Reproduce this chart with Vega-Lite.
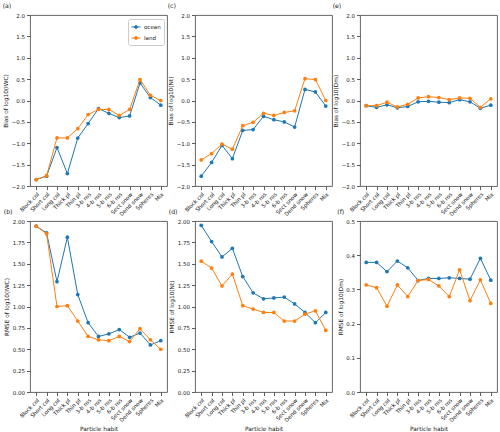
{
  "$schema": "https://vega.github.io/schema/vega-lite/v6.json",
  "padding": {"left": 2, "top": 2, "right": 2, "bottom": 2},
  "background": "white",
  "config": {
    "font": "DejaVu Sans",
    "view": {"stroke": "#555", "strokeWidth": 0.9},
    "axis": {"domain": false, "grid": false, "tickColor": "#333", "tickSize": 3.5, "tickWidth": 0.8, "labelFont": "DejaVu Sans", "labelFontSize": 5.5, "labelColor": "#222", "titleFont": "DejaVu Sans", "titleFontSize": 5.8, "titleFontWeight": "normal", "titleColor": "#222", "labelPadding": 2, "titlePadding": 2.5},
    "title": {"font": "DejaVu Sans", "fontSize": 6.2, "fontWeight": "normal", "anchor": "start", "offset": 4, "color": "#222"}
  },
  "datasets": {
    "d": [
      {"panel":"a","surface":"ocean","habit":"Block col","value":-1.85},
      {"panel":"a","surface":"ocean","habit":"Short col","value":-1.77},
      {"panel":"a","surface":"ocean","habit":"Long col","value":-1.10},
      {"panel":"a","surface":"ocean","habit":"Thick pl","value":-1.71},
      {"panel":"a","surface":"ocean","habit":"Thin pl","value":-0.88},
      {"panel":"a","surface":"ocean","habit":"3-b ros","value":-0.54},
      {"panel":"a","surface":"ocean","habit":"4-b ros","value":-0.19},
      {"panel":"a","surface":"ocean","habit":"5-b ros","value":-0.30},
      {"panel":"a","surface":"ocean","habit":"6-b ros","value":-0.40},
      {"panel":"a","surface":"ocean","habit":"Sect snow","value":-0.36},
      {"panel":"a","surface":"ocean","habit":"Dend snow","value":0.41},
      {"panel":"a","surface":"ocean","habit":"Spheres","value":0.07},
      {"panel":"a","surface":"ocean","habit":"Mix","value":-0.11},
      {"panel":"a","surface":"land","habit":"Block col","value":-1.85},
      {"panel":"a","surface":"land","habit":"Short col","value":-1.76},
      {"panel":"a","surface":"land","habit":"Long col","value":-0.875},
      {"panel":"a","surface":"land","habit":"Thick pl","value":-0.875},
      {"panel":"a","surface":"land","habit":"Thin pl","value":-0.66},
      {"panel":"a","surface":"land","habit":"3-b ros","value":-0.33},
      {"panel":"a","surface":"land","habit":"4-b ros","value":-0.21},
      {"panel":"a","surface":"land","habit":"5-b ros","value":-0.21},
      {"panel":"a","surface":"land","habit":"6-b ros","value":-0.35},
      {"panel":"a","surface":"land","habit":"Sect snow","value":-0.21},
      {"panel":"a","surface":"land","habit":"Dend snow","value":0.49},
      {"panel":"a","surface":"land","habit":"Spheres","value":0.12},
      {"panel":"a","surface":"land","habit":"Mix","value":0.0},
      {"panel":"c","surface":"ocean","habit":"Block col","value":-1.77},
      {"panel":"c","surface":"ocean","habit":"Short col","value":-1.45},
      {"panel":"c","surface":"ocean","habit":"Long col","value":-1.05},
      {"panel":"c","surface":"ocean","habit":"Thick pl","value":-1.36},
      {"panel":"c","surface":"ocean","habit":"Thin pl","value":-0.70},
      {"panel":"c","surface":"ocean","habit":"3-b ros","value":-0.68},
      {"panel":"c","surface":"ocean","habit":"4-b ros","value":-0.37},
      {"panel":"c","surface":"ocean","habit":"5-b ros","value":-0.45},
      {"panel":"c","surface":"ocean","habit":"6-b ros","value":-0.50},
      {"panel":"c","surface":"ocean","habit":"Sect snow","value":-0.62},
      {"panel":"c","surface":"ocean","habit":"Dend snow","value":0.26},
      {"panel":"c","surface":"ocean","habit":"Spheres","value":0.20},
      {"panel":"c","surface":"ocean","habit":"Mix","value":-0.13},
      {"panel":"c","surface":"land","habit":"Block col","value":-1.39},
      {"panel":"c","surface":"land","habit":"Short col","value":-1.24},
      {"panel":"c","surface":"land","habit":"Long col","value":-1.02},
      {"panel":"c","surface":"land","habit":"Thick pl","value":-1.14},
      {"panel":"c","surface":"land","habit":"Thin pl","value":-0.59},
      {"panel":"c","surface":"land","habit":"3-b ros","value":-0.51},
      {"panel":"c","surface":"land","habit":"4-b ros","value":-0.30},
      {"panel":"c","surface":"land","habit":"5-b ros","value":-0.35},
      {"panel":"c","surface":"land","habit":"6-b ros","value":-0.28},
      {"panel":"c","surface":"land","habit":"Sect snow","value":-0.24},
      {"panel":"c","surface":"land","habit":"Dend snow","value":0.51},
      {"panel":"c","surface":"land","habit":"Spheres","value":0.49},
      {"panel":"c","surface":"land","habit":"Mix","value":0.0},
      {"panel":"e","surface":"ocean","habit":"Block col","value":-0.12},
      {"panel":"e","surface":"ocean","habit":"Short col","value":-0.16},
      {"panel":"e","surface":"ocean","habit":"Long col","value":-0.10},
      {"panel":"e","surface":"ocean","habit":"Thick pl","value":-0.17},
      {"panel":"e","surface":"ocean","habit":"Thin pl","value":-0.14},
      {"panel":"e","surface":"ocean","habit":"3-b ros","value":-0.03},
      {"panel":"e","surface":"ocean","habit":"4-b ros","value":-0.02},
      {"panel":"e","surface":"ocean","habit":"5-b ros","value":-0.04},
      {"panel":"e","surface":"ocean","habit":"6-b ros","value":-0.05},
      {"panel":"e","surface":"ocean","habit":"Sect snow","value":0.02},
      {"panel":"e","surface":"ocean","habit":"Dend snow","value":-0.03},
      {"panel":"e","surface":"ocean","habit":"Spheres","value":-0.18},
      {"panel":"e","surface":"ocean","habit":"Mix","value":-0.11},
      {"panel":"e","surface":"land","habit":"Block col","value":-0.12},
      {"panel":"e","surface":"land","habit":"Short col","value":-0.12},
      {"panel":"e","surface":"land","habit":"Long col","value":-0.04},
      {"panel":"e","surface":"land","habit":"Thick pl","value":-0.15},
      {"panel":"e","surface":"land","habit":"Thin pl","value":-0.09},
      {"panel":"e","surface":"land","habit":"3-b ros","value":0.06},
      {"panel":"e","surface":"land","habit":"4-b ros","value":0.09},
      {"panel":"e","surface":"land","habit":"5-b ros","value":0.07},
      {"panel":"e","surface":"land","habit":"6-b ros","value":0.02},
      {"panel":"e","surface":"land","habit":"Sect snow","value":0.06},
      {"panel":"e","surface":"land","habit":"Dend snow","value":0.05},
      {"panel":"e","surface":"land","habit":"Spheres","value":-0.16},
      {"panel":"e","surface":"land","habit":"Mix","value":0.04},
      {"panel":"b","surface":"ocean","habit":"Block col","value":1.94},
      {"panel":"b","surface":"ocean","habit":"Short col","value":1.86},
      {"panel":"b","surface":"ocean","habit":"Long col","value":1.29},
      {"panel":"b","surface":"ocean","habit":"Thick pl","value":1.81},
      {"panel":"b","surface":"ocean","habit":"Thin pl","value":1.14},
      {"panel":"b","surface":"ocean","habit":"3-b ros","value":0.81},
      {"panel":"b","surface":"ocean","habit":"4-b ros","value":0.65},
      {"panel":"b","surface":"ocean","habit":"5-b ros","value":0.68},
      {"panel":"b","surface":"ocean","habit":"6-b ros","value":0.73},
      {"panel":"b","surface":"ocean","habit":"Sect snow","value":0.64},
      {"panel":"b","surface":"ocean","habit":"Dend snow","value":0.69},
      {"panel":"b","surface":"ocean","habit":"Spheres","value":0.55},
      {"panel":"b","surface":"ocean","habit":"Mix","value":0.60},
      {"panel":"b","surface":"land","habit":"Block col","value":1.94},
      {"panel":"b","surface":"land","habit":"Short col","value":1.85},
      {"panel":"b","surface":"land","habit":"Long col","value":1.00},
      {"panel":"b","surface":"land","habit":"Thick pl","value":1.01},
      {"panel":"b","surface":"land","habit":"Thin pl","value":0.83},
      {"panel":"b","surface":"land","habit":"3-b ros","value":0.65},
      {"panel":"b","surface":"land","habit":"4-b ros","value":0.61},
      {"panel":"b","surface":"land","habit":"5-b ros","value":0.60},
      {"panel":"b","surface":"land","habit":"6-b ros","value":0.65},
      {"panel":"b","surface":"land","habit":"Sect snow","value":0.59},
      {"panel":"b","surface":"land","habit":"Dend snow","value":0.74},
      {"panel":"b","surface":"land","habit":"Spheres","value":0.61},
      {"panel":"b","surface":"land","habit":"Mix","value":0.50},
      {"panel":"d","surface":"ocean","habit":"Block col","value":1.95},
      {"panel":"d","surface":"ocean","habit":"Short col","value":1.76},
      {"panel":"d","surface":"ocean","habit":"Long col","value":1.58},
      {"panel":"d","surface":"ocean","habit":"Thick pl","value":1.68},
      {"panel":"d","surface":"ocean","habit":"Thin pl","value":1.35},
      {"panel":"d","surface":"ocean","habit":"3-b ros","value":1.16},
      {"panel":"d","surface":"ocean","habit":"4-b ros","value":1.09},
      {"panel":"d","surface":"ocean","habit":"5-b ros","value":1.10},
      {"panel":"d","surface":"ocean","habit":"6-b ros","value":1.11},
      {"panel":"d","surface":"ocean","habit":"Sect snow","value":1.03},
      {"panel":"d","surface":"ocean","habit":"Dend snow","value":0.93},
      {"panel":"d","surface":"ocean","habit":"Spheres","value":0.81},
      {"panel":"d","surface":"ocean","habit":"Mix","value":0.93},
      {"panel":"d","surface":"land","habit":"Block col","value":1.53},
      {"panel":"d","surface":"land","habit":"Short col","value":1.45},
      {"panel":"d","surface":"land","habit":"Long col","value":1.24},
      {"panel":"d","surface":"land","habit":"Thick pl","value":1.38},
      {"panel":"d","surface":"land","habit":"Thin pl","value":1.01},
      {"panel":"d","surface":"land","habit":"3-b ros","value":0.97},
      {"panel":"d","surface":"land","habit":"4-b ros","value":0.93},
      {"panel":"d","surface":"land","habit":"5-b ros","value":0.93},
      {"panel":"d","surface":"land","habit":"6-b ros","value":0.83},
      {"panel":"d","surface":"land","habit":"Sect snow","value":0.83},
      {"panel":"d","surface":"land","habit":"Dend snow","value":0.91},
      {"panel":"d","surface":"land","habit":"Spheres","value":0.95},
      {"panel":"d","surface":"land","habit":"Mix","value":0.72},
      {"panel":"f","surface":"ocean","habit":"Block col","value":0.379},
      {"panel":"f","surface":"ocean","habit":"Short col","value":0.379},
      {"panel":"f","surface":"ocean","habit":"Long col","value":0.352},
      {"panel":"f","surface":"ocean","habit":"Thick pl","value":0.383},
      {"panel":"f","surface":"ocean","habit":"Thin pl","value":0.363},
      {"panel":"f","surface":"ocean","habit":"3-b ros","value":0.326},
      {"panel":"f","surface":"ocean","habit":"4-b ros","value":0.332},
      {"panel":"f","surface":"ocean","habit":"5-b ros","value":0.332},
      {"panel":"f","surface":"ocean","habit":"6-b ros","value":0.334},
      {"panel":"f","surface":"ocean","habit":"Sect snow","value":0.332},
      {"panel":"f","surface":"ocean","habit":"Dend snow","value":0.330},
      {"panel":"f","surface":"ocean","habit":"Spheres","value":0.391},
      {"panel":"f","surface":"ocean","habit":"Mix","value":0.327},
      {"panel":"f","surface":"land","habit":"Block col","value":0.313},
      {"panel":"f","surface":"land","habit":"Short col","value":0.305},
      {"panel":"f","surface":"land","habit":"Long col","value":0.251},
      {"panel":"f","surface":"land","habit":"Thick pl","value":0.313},
      {"panel":"f","surface":"land","habit":"Thin pl","value":0.279},
      {"panel":"f","surface":"land","habit":"3-b ros","value":0.326},
      {"panel":"f","surface":"land","habit":"4-b ros","value":0.329},
      {"panel":"f","surface":"land","habit":"5-b ros","value":0.310},
      {"panel":"f","surface":"land","habit":"6-b ros","value":0.279},
      {"panel":"f","surface":"land","habit":"Sect snow","value":0.357},
      {"panel":"f","surface":"land","habit":"Dend snow","value":0.267},
      {"panel":"f","surface":"land","habit":"Spheres","value":0.328},
      {"panel":"f","surface":"land","habit":"Mix","value":0.259}
    ]
  },
  "bounds": "flush",
  "columns": 3,
  "spacing": {"row": 35, "column": 28},
  "resolve": {"scale": {"color": "independent", "y": "independent", "x": "independent"}},
  "concat": [
    {
      "width": 137, "height": 171, "title": "(a)",
      "encoding": {
        "x": {"field": "habit", "type": "nominal", "scale": {"type": "point", "padding": 0.6, "domain": ["Block col","Short col","Long col","Thick pl","Thin pl","3-b ros","4-b ros","5-b ros","6-b ros","Sect snow","Dend snow","Spheres","Mix"]}, "axis": {"title": null, "labelAngle": -45, "labelAlign": "right", "labelBaseline": "top"}},
        "y": {"field": "value", "type": "quantitative", "scale": {"domain": [-2, 2], "nice": false, "zero": false}, "axis": {"title": "Bias of log10(IWC)", "values": [-2,-1.5,-1,-0.5,0,0.5,1,1.5,2], "format": ".1f"}}
      },
      "layer": [
        {"data": {"values": [{}]}, "mark": {"type": "rule", "strokeDash": [1.2, 1.2], "color": "#333", "strokeWidth": 1}, "encoding": {"x": {"datum": "Block col"}, "x2": {"datum": "Mix"}, "y": {"datum": 0}}},
        {"data": {"name": "d"}, "transform": [{"filter": "datum.panel==='a' && datum.surface==='ocean'"}], "mark": {"type": "line", "strokeWidth": 1, "point": {"filled": true, "size": 14}}, "encoding": {"color": {"field": "surface", "type": "nominal", "scale": {"domain": ["ocean","land"], "range": ["#1f77b4","#ff7f0e"]}, "legend": {"title": null, "orient": "none", "legendX": 98, "legendY": 4, "symbolType": "M-1,0H1M-0.32,0A0.32,0.32,0,1,0,0.32,0A0.32,0.32,0,1,0,-0.32,0Z", "symbolSize": 80, "symbolStrokeWidth": 1, "labelFontSize": 5.5, "labelFont": "DejaVu Sans", "labelColor": "#222", "padding": 3, "rowPadding": 2, "strokeColor": "#ccc", "fillColor": "white", "cornerRadius": 2, "labelOffset": 3, "encode": {"symbols": {"update": {"fill": {"signal": "datum.value==='ocean'?'#1f77b4':'#ff7f0e'"}, "stroke": {"signal": "datum.value==='ocean'?'#1f77b4':'#ff7f0e'"}}}}}}}},
        {"data": {"name": "d"}, "transform": [{"filter": "datum.panel==='a' && datum.surface==='land'"}], "mark": {"type": "line", "strokeWidth": 1, "point": {"filled": true, "size": 14}}, "encoding": {"color": {"field": "surface", "type": "nominal", "scale": {"domain": ["ocean","land"], "range": ["#1f77b4","#ff7f0e"]}, "legend": {"title": null, "orient": "none", "legendX": 98, "legendY": 4, "symbolType": "M-1,0H1M-0.32,0A0.32,0.32,0,1,0,0.32,0A0.32,0.32,0,1,0,-0.32,0Z", "symbolSize": 80, "symbolStrokeWidth": 1, "labelFontSize": 5.5, "labelFont": "DejaVu Sans", "labelColor": "#222", "padding": 3, "rowPadding": 2, "strokeColor": "#ccc", "fillColor": "white", "cornerRadius": 2, "labelOffset": 3, "encode": {"symbols": {"update": {"fill": {"signal": "datum.value==='ocean'?'#1f77b4':'#ff7f0e'"}, "stroke": {"signal": "datum.value==='ocean'?'#1f77b4':'#ff7f0e'"}}}}}}}}
      ]
    },
    {
      "width": 137, "height": 171, "title": "(c)",
      "encoding": {
        "x": {"field": "habit", "type": "nominal", "scale": {"type": "point", "padding": 0.6, "domain": ["Block col","Short col","Long col","Thick pl","Thin pl","3-b ros","4-b ros","5-b ros","6-b ros","Sect snow","Dend snow","Spheres","Mix"]}, "axis": {"title": null, "labelAngle": -45, "labelAlign": "right", "labelBaseline": "top"}},
        "y": {"field": "value", "type": "quantitative", "scale": {"domain": [-2, 2], "nice": false, "zero": false}, "axis": {"title": "Bias of log10(Nt)", "values": [-2,-1.5,-1,-0.5,0,0.5,1,1.5,2], "format": ".1f"}}
      },
      "layer": [
        {"data": {"values": [{}]}, "mark": {"type": "rule", "strokeDash": [1.2, 1.2], "color": "#333", "strokeWidth": 1}, "encoding": {"x": {"datum": "Block col"}, "x2": {"datum": "Mix"}, "y": {"datum": 0}}},
        {"data": {"name": "d"}, "transform": [{"filter": "datum.panel==='c' && datum.surface==='ocean'"}], "mark": {"type": "line", "strokeWidth": 1, "point": {"filled": true, "size": 14}}, "encoding": {"color": {"field": "surface", "type": "nominal", "scale": {"domain": ["ocean","land"], "range": ["#1f77b4","#ff7f0e"]}, "legend": null}}},
        {"data": {"name": "d"}, "transform": [{"filter": "datum.panel==='c' && datum.surface==='land'"}], "mark": {"type": "line", "strokeWidth": 1, "point": {"filled": true, "size": 14}}, "encoding": {"color": {"field": "surface", "type": "nominal", "scale": {"domain": ["ocean","land"], "range": ["#1f77b4","#ff7f0e"]}, "legend": null}}}
      ]
    },
    {
      "width": 137, "height": 171, "title": "(e)",
      "encoding": {
        "x": {"field": "habit", "type": "nominal", "scale": {"type": "point", "padding": 0.6, "domain": ["Block col","Short col","Long col","Thick pl","Thin pl","3-b ros","4-b ros","5-b ros","6-b ros","Sect snow","Dend snow","Spheres","Mix"]}, "axis": {"title": null, "labelAngle": -45, "labelAlign": "right", "labelBaseline": "top"}},
        "y": {"field": "value", "type": "quantitative", "scale": {"domain": [-2, 2], "nice": false, "zero": false}, "axis": {"title": "Bias of log10(Dm)", "values": [-2,-1.5,-1,-0.5,0,0.5,1,1.5,2], "format": ".1f"}}
      },
      "layer": [
        {"data": {"values": [{}]}, "mark": {"type": "rule", "strokeDash": [1.2, 1.2], "color": "#333", "strokeWidth": 1}, "encoding": {"x": {"datum": "Block col"}, "x2": {"datum": "Mix"}, "y": {"datum": 0}}},
        {"data": {"name": "d"}, "transform": [{"filter": "datum.panel==='e' && datum.surface==='ocean'"}], "mark": {"type": "line", "strokeWidth": 1, "point": {"filled": true, "size": 14}}, "encoding": {"color": {"field": "surface", "type": "nominal", "scale": {"domain": ["ocean","land"], "range": ["#1f77b4","#ff7f0e"]}, "legend": null}}},
        {"data": {"name": "d"}, "transform": [{"filter": "datum.panel==='e' && datum.surface==='land'"}], "mark": {"type": "line", "strokeWidth": 1, "point": {"filled": true, "size": 14}}, "encoding": {"color": {"field": "surface", "type": "nominal", "scale": {"domain": ["ocean","land"], "range": ["#1f77b4","#ff7f0e"]}, "legend": null}}}
      ]
    },
    {
      "width": 137, "height": 171, "title": "(b)",
      "encoding": {
        "x": {"field": "habit", "type": "nominal", "scale": {"type": "point", "padding": 0.6, "domain": ["Block col","Short col","Long col","Thick pl","Thin pl","3-b ros","4-b ros","5-b ros","6-b ros","Sect snow","Dend snow","Spheres","Mix"]}, "axis": {"title": "Particle habit", "labelAngle": -45, "labelAlign": "right", "labelBaseline": "top", "titlePadding": 3}},
        "y": {"field": "value", "type": "quantitative", "scale": {"domain": [0, 2], "nice": false, "zero": false}, "axis": {"title": "RMSE of log10(IWC)", "values": [0,0.25,0.5,0.75,1,1.25,1.5,1.75,2], "format": ".2f"}}
      },
      "layer": [
        {"data": {"name": "d"}, "transform": [{"filter": "datum.panel==='b' && datum.surface==='ocean'"}], "mark": {"type": "line", "strokeWidth": 1, "point": {"filled": true, "size": 14}}, "encoding": {"color": {"field": "surface", "type": "nominal", "scale": {"domain": ["ocean","land"], "range": ["#1f77b4","#ff7f0e"]}, "legend": null}}},
        {"data": {"name": "d"}, "transform": [{"filter": "datum.panel==='b' && datum.surface==='land'"}], "mark": {"type": "line", "strokeWidth": 1, "point": {"filled": true, "size": 14}}, "encoding": {"color": {"field": "surface", "type": "nominal", "scale": {"domain": ["ocean","land"], "range": ["#1f77b4","#ff7f0e"]}, "legend": null}}}
      ]
    },
    {
      "width": 137, "height": 171, "title": "(d)",
      "encoding": {
        "x": {"field": "habit", "type": "nominal", "scale": {"type": "point", "padding": 0.6, "domain": ["Block col","Short col","Long col","Thick pl","Thin pl","3-b ros","4-b ros","5-b ros","6-b ros","Sect snow","Dend snow","Spheres","Mix"]}, "axis": {"title": "Particle habit", "labelAngle": -45, "labelAlign": "right", "labelBaseline": "top", "titlePadding": 3}},
        "y": {"field": "value", "type": "quantitative", "scale": {"domain": [0, 2], "nice": false, "zero": false}, "axis": {"title": "RMSE of log10(Nt)", "values": [0,0.25,0.5,0.75,1,1.25,1.5,1.75,2], "format": ".2f"}}
      },
      "layer": [
        {"data": {"name": "d"}, "transform": [{"filter": "datum.panel==='d' && datum.surface==='ocean'"}], "mark": {"type": "line", "strokeWidth": 1, "point": {"filled": true, "size": 14}}, "encoding": {"color": {"field": "surface", "type": "nominal", "scale": {"domain": ["ocean","land"], "range": ["#1f77b4","#ff7f0e"]}, "legend": null}}},
        {"data": {"name": "d"}, "transform": [{"filter": "datum.panel==='d' && datum.surface==='land'"}], "mark": {"type": "line", "strokeWidth": 1, "point": {"filled": true, "size": 14}}, "encoding": {"color": {"field": "surface", "type": "nominal", "scale": {"domain": ["ocean","land"], "range": ["#1f77b4","#ff7f0e"]}, "legend": null}}}
      ]
    },
    {
      "width": 137, "height": 171, "title": "(f)",
      "encoding": {
        "x": {"field": "habit", "type": "nominal", "scale": {"type": "point", "padding": 0.6, "domain": ["Block col","Short col","Long col","Thick pl","Thin pl","3-b ros","4-b ros","5-b ros","6-b ros","Sect snow","Dend snow","Spheres","Mix"]}, "axis": {"title": "Particle habit", "labelAngle": -45, "labelAlign": "right", "labelBaseline": "top", "titlePadding": 3}},
        "y": {"field": "value", "type": "quantitative", "scale": {"domain": [0, 0.5], "nice": false, "zero": false}, "axis": {"title": "RMSE of log10(Dm)", "values": [0,0.1,0.2,0.3,0.4,0.5], "format": ".1f"}}
      },
      "layer": [
        {"data": {"name": "d"}, "transform": [{"filter": "datum.panel==='f' && datum.surface==='ocean'"}], "mark": {"type": "line", "strokeWidth": 1, "point": {"filled": true, "size": 14}}, "encoding": {"color": {"field": "surface", "type": "nominal", "scale": {"domain": ["ocean","land"], "range": ["#1f77b4","#ff7f0e"]}, "legend": null}}},
        {"data": {"name": "d"}, "transform": [{"filter": "datum.panel==='f' && datum.surface==='land'"}], "mark": {"type": "line", "strokeWidth": 1, "point": {"filled": true, "size": 14}}, "encoding": {"color": {"field": "surface", "type": "nominal", "scale": {"domain": ["ocean","land"], "range": ["#1f77b4","#ff7f0e"]}, "legend": null}}}
      ]
    }
  ]
}
